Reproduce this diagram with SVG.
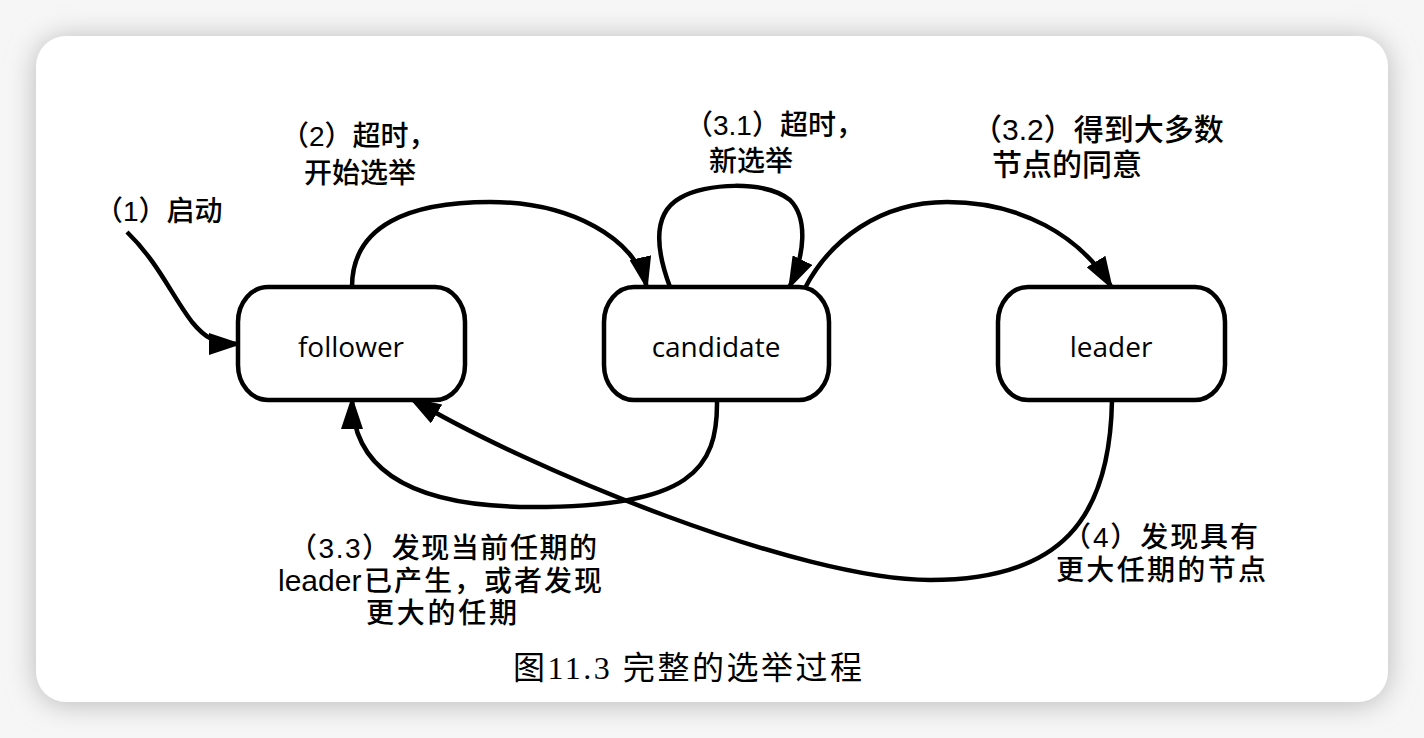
<svg xmlns="http://www.w3.org/2000/svg" width="1424" height="738" viewBox="0 0 1424 738">
<defs>
<filter id="shadow" x="-10%" y="-10%" width="120%" height="120%">
<feGaussianBlur stdDeviation="14"/>
</filter>
<marker id="arrow" viewBox="0 0 33 22" markerWidth="33" markerHeight="22" markerUnits="userSpaceOnUse" refX="31" refY="11" orient="auto">
<path d="M0,0 L33,11 L0,22 z" fill="#000"/>
</marker>
<style>
.node rect{fill:#fff;stroke:#000;stroke-width:4.5}
.node text{font-family:"Open Sans","Noto Sans",sans-serif;font-size:28px;fill:#000;text-anchor:middle}
.edge{fill:none;stroke:#000;stroke-width:4.5;marker-end:url(#arrow)}
.lbl{font-family:"Liberation Sans","Noto Sans CJK SC",sans-serif;font-size:28px;font-weight:500;fill:#000}
.lbl30{font-family:"Liberation Sans","Noto Sans CJK SC",sans-serif;font-size:30px;font-weight:500;fill:#000}
.cap{font-family:"Liberation Serif","Noto Sans CJK SC",serif;font-size:32px;fill:#000}
</style>
</defs>
<rect x="0" y="0" width="1424" height="738" fill="#f6f6f6"/>
<rect x="36" y="38" width="1352" height="666" rx="30" fill="#b8b8b8" filter="url(#shadow)"/>
<rect x="36" y="36" width="1352" height="666" rx="30" fill="#fff"/>

<g id="connectors">
<path class="edge" d="M127,232 C158,262 172,296 192,322 C205,338 215,344 240,344"/>
<path class="edge" d="M352,287 C352,225 410,202 490,202 C570,202 636,238 647,288"/>
<path class="edge" d="M670,287 C658,255 650,215 680,198 C705,183 765,180 790,200 C808,218 805,255 789,288"/>
<path class="edge" d="M805,288 C830,240 880,202 947,202 C1020,202 1080,235 1112,288"/>
<path class="edge" d="M717,400 C718,470 690,507 533,507 C420,507 352,475 352,398"/>
<path class="edge" d="M1112,400 C1110,520 1060,580 930,580 C800,580 530,470 410,398"/>
</g>

<g id="follower" class="node">
<rect x="238" y="287" width="227" height="113" rx="30" ry="35"/>
<text x="351" y="357">follower</text>
</g>
<g id="candidate" class="node">
<rect x="604" y="287" width="225" height="113" rx="30" ry="35"/>
<text x="716" y="357">candidate</text>
</g>
<g id="leader" class="node">
<rect x="998" y="287" width="227" height="113" rx="30" ry="35"/>
<text x="1111" y="357">leader</text>
</g>

<g id="labels">
<text class="lbl" x="95" y="221">（1）启动</text>
<text class="lbl" x="281" y="146">（2）超时，</text>
<text class="lbl" x="304" y="183">开始选举</text>
<text class="lbl" x="685" y="135">（3.1）超时，</text>
<text class="lbl" x="709" y="171">新选举</text>
<text class="lbl30" x="972" y="140">（3.2）得到大多数</text>
<text class="lbl30" x="992" y="175">节点的同意</text>
<text class="lbl" x="289" y="558" textLength="308">（3.3）发现当前任期的</text>
<text class="lbl" x="278" y="591"><tspan font-size="30">leader</tspan><tspan x="364" letter-spacing="2">已产生，或者发现</tspan></text>
<text class="lbl" x="366" y="623" textLength="151">更大的任期</text>
<text class="lbl" x="1063" y="547" textLength="195">（4）发现具有</text>
<text class="lbl" x="1056" y="580" textLength="210">更大任期的节点</text>
</g>
<text class="cap" x="513" y="679" textLength="349">图11.3 完整的选举过程</text>
</svg>
